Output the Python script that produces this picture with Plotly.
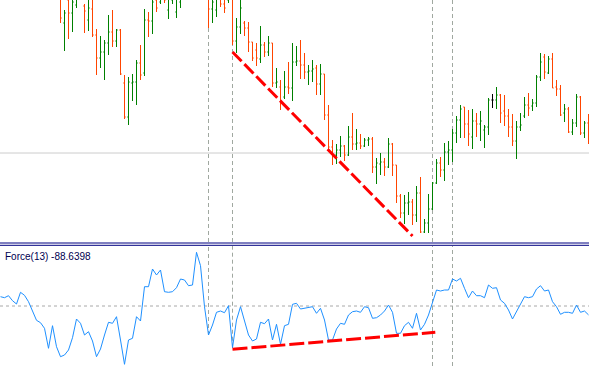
import plotly.graph_objects as go

# ---------------- data ----------------
opens = [340,346,350,342,335,330,344,340,332,322,315,312,308,328,314,
         305,277,300,287,295,306,294,280,291,265,242,248,257,268,259,
         270,217,183,217,218,237,227,280,279,300,298,304,290,300,288,
         298,306,315,312,326,340,330,305,291,290,302,296,300,303,259,
         273,277,272,258,250,241,255,248,257,217,213,203,213,212,238,
         239,235,228,229,232,216,226,185,153,145,150,154,145,163,156,
         157,154,160,161,133,136,138,133,156,135,104,87,97,98,85,
         107,68,77,91,117,137,130,148,150,167,180,193,176,163,179,
         176,170,173,200,200,205,189,184,173,159,173,184,195,194,197,
         223,243,227,241,213,211,187,191,168,177,203,167,177]
highs = [352,358,360,350,345,348,355,346,340,330,325,320,330,334,330,
         312,290,305,308,312,320,296,303,302,271,264,260,285,290,271,
         271,225,223,226,240,255,291,288,305,308,310,312,306,310,308,
         312,320,325,330,345,348,335,315,308,306,310,305,312,308,282,
         303,279,278,258,257,274,258,264,257,232,220,229,238,257,254,
         260,247,235,240,235,236,226,195,160,156,164,155,174,187,171,
         166,162,163,163,142,147,142,162,157,135,106,105,108,101,114,
         123,81,106,118,141,143,157,159,171,184,195,193,190,191,187,
         189,175,202,206,213,206,205,191,186,179,187,203,207,201,225,
         247,246,244,247,220,215,196,193,181,206,204,179,186]
lows = [330,335,338,330,325,326,335,328,318,310,308,305,305,310,306,
        277,249,261,268,292,302,267,269,263,225,232,220,245,253,253,
        225,181,175,199,195,220,224,263,266,288,296,297,281,296,282,
        292,303,308,308,320,325,305,272,277,283,293,287,297,255,247,
        266,264,248,239,234,237,243,244,213,212,190,201,206,199,234,
        221,221,215,218,205,205,180,148,135,136,143,139,144,150,150,
        151,153,154,127,116,125,124,132,124,97,82,76,85,75,78,
        67,67,67,90,116,123,119,135,138,157,162,162,154,151,163,
        159,152,165,192,191,177,174,163,154,141,169,182,184,189,193,
        219,221,226,212,204,184,178,167,165,173,165,162,156]
closes = [346,350,342,335,330,344,340,332,322,315,312,308,328,314,325,
          282,287,287,298,306,315,289,292,265,242,248,257,268,259,270,
          226,183,218,218,237,225,280,279,298,292,304,300,302,306,303,
          306,315,312,326,340,330,310,291,298,302,296,292,305,259,273,
          292,272,258,242,242,255,248,257,217,218,199,213,212,238,239,
          235,228,229,231,216,226,185,153,145,150,154,145,163,156,157,
          154,160,161,133,137,138,133,156,135,104,87,97,98,85,107,
          68,77,91,117,137,130,148,150,167,180,191,176,166,179,176,
          179,173,200,200,205,187,184,173,159,173,175,195,192,197,223,
          238,228,241,212,211,185,191,168,177,203,167,177,170]

force = [93,83,103,53,20,137,107,43,-50,-143,-167,-223,-423,-197,-407,
         -507,-490,-440,-317,-130,-173,-290,-257,-350,-507,-430,-290,-163,-173,-107,
         -340,-583,-340,-323,-107,-150,193,193,370,310,360,143,137,143,183,
         270,260,203,210,537,403,-7,-290,-190,-63,-50,-67,3,-417,-140,
         -7,-140,-290,-350,-330,-163,-177,-130,-340,-183,-383,-197,-183,17,27,
         -30,-23,-17,-7,-73,-23,-140,-340,-340,-230,-173,-183,-90,-57,-50,
         -63,-7,-17,-123,-117,-90,-50,10,-63,-273,-273,-197,-163,-223,-73,
         -240,-183,-90,43,160,150,160,160,270,250,277,177,83,150,103,
         103,83,210,177,183,60,27,-40,-130,-57,10,93,83,93,170,
         203,150,160,43,-7,-83,-63,-63,-73,10,-63,-50,-88.6]

idx = list(range(len(opens)))

trend_top_x = [58, 103.0]
trend_top_y = [248, 64]
trend_bot_x = [58, 108.7]
trend_bot_y = [-433, -263]

vlines = [52, 58, 108, 113]
hline_price = 147
label_text = "Force(13) -88.6398"

GREEN = "#008000"
ORANGE = "#FF4500"

# ---------------- figure ----------------
fig = go.Figure()

groups = {"up": [], "down": [], "doji": []}
for i in idx:
    if closes[i] > opens[i]:
        groups["up"].append(i)
    elif closes[i] < opens[i]:
        groups["down"].append(i)
    else:
        groups["doji"].append(i)

for key, col in (("up", GREEN), ("down", ORANGE), ("doji", "#000000")):
    sel = groups[key]
    fig.add_trace(go.Ohlc(
        x=[idx[i] for i in sel],
        open=[opens[i] for i in sel], high=[highs[i] for i in sel],
        low=[lows[i] for i in sel], close=[closes[i] for i in sel],
        increasing=dict(line=dict(color=col, width=1)),
        decreasing=dict(line=dict(color=col, width=1)),
        tickwidth=0.3, xaxis="x", yaxis="y", showlegend=False, hoverinfo="skip"))

fig.add_trace(go.Scatter(x=trend_top_x, y=trend_top_y, mode="lines",
                         line=dict(color="#FF0000", width=3, dash="13px,4px"),
                         xaxis="x", yaxis="y", showlegend=False, hoverinfo="skip"))

fig.add_trace(go.Scatter(x=idx, y=force, mode="lines",
                         line=dict(color="#1E90FF", width=1),
                         xaxis="x", yaxis="y2", showlegend=False, hoverinfo="skip"))

fig.add_trace(go.Scatter(x=trend_bot_x, y=trend_bot_y, mode="lines",
                         line=dict(color="#FF0000", width=3, dash="15px,4px"),
                         xaxis="x", yaxis="y2", showlegend=False, hoverinfo="skip"))

shapes = []
shapes.append(dict(type="line", xref="paper", x0=0, x1=1, yref="y",
                   y0=hline_price, y1=hline_price,
                   line=dict(color="#CCCCCC", width=1), layer="below"))
shapes.append(dict(type="line", xref="paper", x0=0, x1=1, yref="y2", y0=0, y1=0,
                   line=dict(color="#A8A8A8", width=1, dash="3px,3px"), layer="below"))
for k, v in enumerate(vlines):
    shapes.append(dict(type="line", xref="x", x0=v, x1=v, yref="y domain", y0=0, y1=1,
                       line=dict(color="#A0A8A0", width=1, dash="4px,3px"), layer="below"))
    y_low = force[v] if k < 2 else -600
    shapes.append(dict(type="line", xref="x", x0=v, x1=v, yref="y2", y0=y_low, y1=600,
                       line=dict(color="#A0A8A0", width=1, dash="4px,3px"), layer="below"))
for yy in (1 - 243.0 / 366, 1 - 245.3 / 366):
    shapes.append(dict(type="line", xref="paper", x0=0, x1=1, yref="paper", y0=yy, y1=yy,
                       line=dict(color="#000080", width=1)))

fig.update_layout(
    width=589, height=366,
    margin=dict(l=0, r=0, t=0, b=0),
    paper_bgcolor="white", plot_bgcolor="white",
    showlegend=False,
    xaxis=dict(range=[-0.125, 147.125], visible=False, showgrid=False,
               rangeslider=dict(visible=False), anchor="y2"),
    yaxis=dict(range=[58, 300], domain=[1 - 242.0 / 366, 1], visible=False,
               showgrid=False, anchor="x"),
    yaxis2=dict(range=[-600, 600], domain=[0, 120.0 / 366], visible=False,
                showgrid=False, anchor="x"),
    shapes=shapes,
    annotations=[dict(text=label_text, xref="paper", yref="paper",
                      x=3 / 589, y=1 - 256 / 366, xanchor="left", yanchor="middle",
                      showarrow=False,
                      font=dict(family="Liberation Sans", size=10, color="#000050"))],
)

fig.write_html("out.html")
